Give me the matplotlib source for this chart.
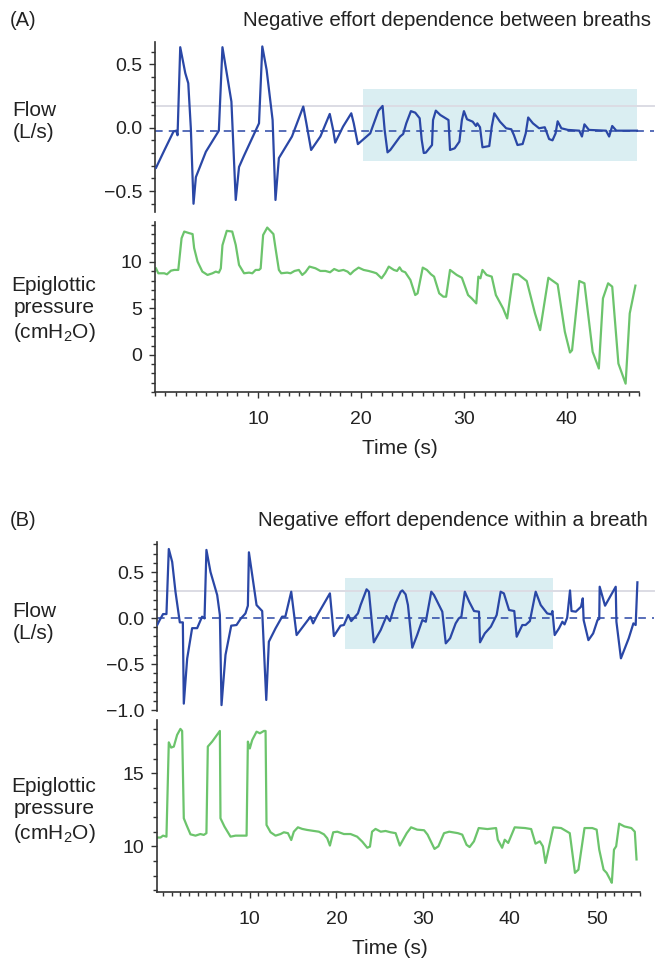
import numpy as np
import matplotlib
matplotlib.use("Agg")
import matplotlib.pyplot as plt
from matplotlib.patches import Rectangle
from matplotlib.ticker import MultipleLocator, FuncFormatter, FixedLocator

plt.rcParams['font.family'] = ['Liberation Sans', 'DejaVu Sans']
plt.rcParams['mathtext.fontset'] = 'custom'
plt.rcParams['mathtext.rm'] = 'Liberation Sans'

# ---- data (time s, value) ----
flow_a = [(0.1, -0.316), (0.9, -0.18), (1.8, -0.03), (2.06, -0.024), (2.19, -0.06), (2.45, 0.634),
          (2.94, 0.43), (3.23, 0.35), (3.48, -0.005), (3.74, -0.6), (3.97, -0.39), (4.94, -0.19),
          (6.2, -0.024), (6.55, 0.634), (7.42, 0.205), (7.84, -0.57), (8.16, -0.31), (8.65, -0.22),
          (10.1, 0.034), (10.42, 0.64), (10.84, 0.455), (11.42, 0.06), (11.7, -0.57), (12.03, -0.24),
          (13.3, -0.07), (14.4, 0.166), (14.7, 0.034), (15.16, -0.176), (16.06, -0.07), (16.97, 0.108),
          (17.3, -0.018), (17.5, -0.118), (18.26, 0.008), (19.06, 0.113), (19.3, 0.034), (19.7, -0.13),
          (20.9, -0.045), (21.7, 0.134), (22.1, 0.171), (22.3, -0.018), (22.58, -0.195), (22.85, -0.176),
          (23.8, -0.07), (24.1, -0.05), (24.4, 0.034), (24.85, 0.13), (25.27, 0.118), (25.7, 0.074),
          (25.9, -0.097), (26.1, -0.2), (26.3, -0.197), (26.9, -0.137), (27.0, 0.06), (27.27, 0.134),
          (27.7, 0.1), (28.5, 0.06), (28.65, -0.176), (29.1, -0.163), (29.56, -0.11), (29.8, 0.06),
          (30.0, 0.13), (30.3, 0.066), (30.85, 0.047), (31.17, 0.013), (31.3, 0.034), (31.56, 0.003),
          (31.8, -0.155), (32.46, -0.145), (32.7, 0.008), (32.95, 0.113), (33.5, 0.047), (34.1, -0.005),
          (34.6, -0.013), (34.85, -0.058), (35.2, -0.137), (35.7, -0.129), (36.0, -0.045), (36.24, 0.08),
          (36.7, 0.034), (37.3, -0.005), (37.85, 0.003), (38.0, -0.03), (38.27, -0.09), (38.6, -0.1),
          (38.9, -0.045), (39.1, 0.05), (39.46, -0.005), (40.1, -0.018), (41.2, -0.024), (41.46, -0.07),
          (41.7, 0.026), (42.14, -0.018), (43.8, -0.024), (44.1, -0.07), (44.4, 0.013), (44.8, -0.024),
          (46.8, -0.024)]

pressure_a = [(0.1, 9.3), (0.32, 8.78), (0.9, 8.78), (1.16, 8.67), (1.55, 9.06), (1.87, 9.14), (2.26, 9.14),
              (2.58, 12.55), (2.84, 13.27), (3.32, 13.1), (3.65, 13.0), (3.8, 11.5), (4.13, 10.04),
              (4.6, 8.96), (5.1, 8.6), (5.58, 8.78), (5.9, 8.96), (6.2, 8.85), (6.39, 9.3), (6.55, 11.8),
              (6.97, 13.35), (7.5, 13.27), (7.84, 11.83), (8.16, 9.68), (8.65, 8.78), (9.13, 8.85),
              (9.45, 8.78), (9.77, 9.14), (10.1, 9.14), (10.26, 9.3), (10.5, 12.9), (10.9, 13.7),
              (11.5, 13.0), (11.7, 11.5), (12.03, 9.14), (12.26, 8.78), (12.84, 8.85), (13.16, 8.78),
              (13.55, 9.03), (13.97, 9.14), (14.3, 8.6), (14.6, 8.89), (15.0, 9.5), (15.58, 9.32),
              (16.06, 9.03), (16.55, 9.03), (17.0, 8.89), (17.4, 9.24), (17.84, 9.03), (18.3, 9.14),
              (18.7, 8.96), (18.97, 8.67), (19.3, 9.03), (19.77, 9.39), (20.26, 9.14), (20.74, 9.03),
              (21.2, 8.89), (21.5, 8.78), (22.0, 8.24), (22.35, 8.78), (22.7, 9.5), (23.2, 9.14),
              (23.5, 9.03), (23.75, 9.42), (23.98, 9.03), (24.3, 8.89), (24.8, 8.06), (25.27, 6.44),
              (25.5, 6.62), (26.0, 9.39), (26.4, 9.14), (26.8, 8.67), (27.1, 8.42), (27.6, 6.62),
              (28.0, 6.26), (28.27, 6.26), (28.65, 9.14), (29.3, 8.6), (29.8, 8.3), (30.4, 6.44),
              (30.75, 6.08), (31.2, 5.54), (31.4, 8.42), (31.6, 8.24), (31.8, 9.14), (32.2, 8.6),
              (32.7, 8.42), (33.1, 6.44), (33.8, 5.0), (34.2, 3.92), (34.8, 8.67), (35.27, 8.67),
              (36.1, 7.95), (36.9, 4.46), (37.4, 2.66), (38.2, 8.3), (39.1, 7.59), (39.8, 2.48),
              (40.3, 0.25), (40.5, 0.5), (41.2, 7.95), (41.7, 7.7), (42.5, 0.32), (43.1, -1.47),
              (43.5, 6.08), (44.0, 7.7), (44.4, 7.34), (45.0, -0.94), (45.7, -3.1), (46.1, 4.46),
              (46.65, 7.45)]

flow_b = [(-0.68, -0.076), (-0.38, -0.02), (0.0, 0.043), (0.39, 0.043), (0.66, 0.75), (1.05, 0.61),
          (1.43, 0.286), (1.93, -0.047), (2.28, -0.047), (2.39, -0.93), (2.78, -0.44), (3.35, -0.11),
          (3.93, -0.11), (4.5, 0.015), (4.78, -0.004), (5.0, 0.74), (5.47, 0.5), (6.24, 0.25),
          (6.55, 0.033), (6.74, -0.946), (7.2, -0.4), (7.86, -0.083), (8.47, -0.076), (8.93, -0.01),
          (9.5, 0.05), (9.78, 0.134), (9.9, 0.714), (10.28, 0.467), (10.78, 0.141), (11.43, 0.076),
          (11.9, -0.89), (12.2, -0.257), (12.97, -0.112), (13.73, 0.015), (14.1, 0.015), (14.78, 0.286),
          (15.4, -0.185), (17.0, 0.015), (17.3, -0.058), (17.8, 0.033), (19.24, 0.268), (19.7, -0.196),
          (20.47, -0.083), (20.85, -0.076), (21.35, 0.033), (21.7, -0.033), (22.47, 0.05), (22.78, 0.141),
          (23.47, 0.312), (23.74, 0.286), (24.3, -0.264), (25.1, -0.13), (25.77, 0.022), (26.16, -0.033),
          (26.8, 0.16), (27.4, 0.286), (27.6, 0.3), (27.97, 0.257), (28.24, 0.141), (28.74, -0.322),
          (29.3, -0.185), (29.9, -0.022), (30.3, -0.04), (30.93, 0.286), (31.24, 0.25), (32.2, 0.069),
          (32.6, -0.275), (33.1, -0.22), (33.74, -0.058), (34.1, -0.004), (34.4, 0.015), (34.8, 0.286),
          (35.3, 0.178), (35.86, 0.076), (36.43, 0.069), (36.55, -0.264), (37.1, -0.167), (37.8, -0.094),
          (38.47, 0.033), (38.93, 0.286), (39.3, 0.268), (39.9, 0.087), (40.5, 0.076), (40.78, -0.203),
          (41.43, -0.076), (41.8, -0.076), (42.3, -0.033), (42.97, 0.286), (43.55, 0.141), (44.3, 0.05),
          (44.78, 0.04), (44.9, 0.076), (45.16, -0.185), (45.66, -0.112), (46.05, -0.04), (46.3, -0.069),
          (46.6, 0.004), (46.93, 0.3), (47.1, 0.076), (47.6, 0.069), (48.2, 0.123), (48.4, 0.214),
          (48.5, -0.022), (49.05, -0.24), (49.6, -0.167), (50.1, -0.022), (50.3, -0.01), (50.35, 0.34),
          (50.97, 0.134), (52.2, 0.34), (52.28, -0.04), (52.8, -0.438), (53.7, -0.22), (54.24, -0.058),
          (54.5, -0.076), (54.7, 0.388)]

pressure_b = [(-0.68, 10.6), (-0.3, 10.6), (0.0, 10.73), (0.39, 10.66), (0.66, 17.12), (0.93, 16.76),
              (1.24, 16.83), (1.62, 17.63), (2.0, 18.04), (2.2, 17.9), (2.39, 11.92), (2.7, 11.46),
              (3.16, 10.82), (3.74, 10.73), (4.3, 10.84), (4.7, 10.78), (5.0, 10.9), (5.16, 16.83),
              (5.66, 17.17), (6.55, 17.9), (6.62, 11.92), (7.08, 11.35), (7.78, 10.66), (8.36, 10.73),
              (9.13, 10.73), (9.63, 10.73), (9.78, 17.17), (10.0, 16.7), (10.28, 17.28), (10.78, 17.85),
              (11.17, 17.74), (11.63, 17.9), (11.82, 17.9), (11.93, 11.46), (12.4, 10.96), (12.97, 10.73),
              (13.55, 10.84), (13.93, 10.96), (14.4, 10.9), (14.78, 10.43), (15.08, 11.0), (15.55, 11.3),
              (16.05, 11.19), (16.62, 11.12), (17.4, 11.05), (17.97, 11.0), (18.55, 10.82), (18.93, 10.55),
              (19.24, 10.05), (19.62, 10.96), (20.1, 11.0), (20.85, 10.84), (21.62, 10.84), (22.38, 10.66),
              (22.97, 10.32), (23.55, 9.9), (23.86, 9.98), (24.1, 11.0), (24.5, 11.19), (25.1, 11.0),
              (25.66, 11.05), (26.24, 10.96), (26.82, 10.9), (27.3, 10.05), (28.1, 10.9), (28.6, 11.3),
              (29.3, 11.14), (30.1, 11.1), (30.5, 10.8), (31.3, 9.82), (31.75, 10.0), (32.4, 10.9),
              (33.0, 11.0), (34.0, 10.9), (34.5, 10.8), (35.0, 10.1), (35.35, 9.95), (35.85, 10.34),
              (36.4, 11.25), (37.4, 11.18), (38.4, 11.25), (38.6, 10.45), (39.1, 9.9), (39.4, 10.45),
              (39.8, 10.23), (40.55, 11.3), (41.75, 11.25), (42.45, 11.18), (42.95, 10.18), (43.45, 10.34),
              (43.8, 10.0), (44.1, 8.86), (45.0, 11.3), (45.9, 11.25), (46.9, 10.9), (47.5, 8.18),
              (47.9, 8.4), (48.6, 11.25), (49.5, 11.25), (50.0, 11.14), (50.3, 9.77), (50.8, 8.4),
              (51.15, 8.18), (51.55, 7.73), (51.75, 7.5), (52.0, 9.77), (52.25, 10.0), (52.6, 11.55),
              (53.2, 11.36), (54.0, 11.25), (54.4, 11.0), (54.6, 9.1)]

# reference levels and highlighted windows (t0, t1, v0, v1)
baseline_a, upper_a = -0.024, 0.174
baseline_b, upper_b = 0.0, 0.297
window_a = (20.2, 46.8, -0.26, 0.305)
window_b = (21.0, 45.0, -0.34, 0.44)

# tick labels
time_ticks_a = [10, 20, 30, 40]
time_ticks_b = [10, 20, 30, 40, 50]
flow_ticks_a = [-0.5, 0.0, 0.5]
flow_ticks_b = [-1.0, -0.5, 0.0, 0.5]
pres_ticks_a = [0, 5, 10]
pres_ticks_b = [10, 15]

FLOW = '#2a47a6'
PRES = '#6cc46c'
BOX = '#daeef2'
GREY = '#dcdce4'
AX = '#333333'
TXT = '#222222'

W, H = 665, 963
fig = plt.figure(figsize=(W / 100, H / 100), dpi=100)


def px_axes(left, top, right, bottom):
    return fig.add_axes([left / W, 1 - bottom / H, (right - left) / W, (bottom - top) / H])


def style(ax, show_x, xticks=None):
    for s in ['top', 'right']:
        ax.spines[s].set_visible(False)
    ax.spines['left'].set_color(AX)
    ax.spines['left'].set_linewidth(1.2)
    ax.patch.set_alpha(0)
    ax.tick_params(which='major', length=4.5, width=1, color=AX, labelsize=14, labelcolor=TXT)
    ax.tick_params(which='minor', length=2.8, width=1, color=AX)
    ax.tick_params(axis='y', pad=4.5)
    if show_x:
        ax.spines['bottom'].set_color(AX)
        ax.spines['bottom'].set_linewidth(1.2)
        ax.xaxis.set_major_locator(FixedLocator(xticks))
        ax.xaxis.set_minor_locator(MultipleLocator(1))
        ax.tick_params(axis='x', pad=9)
    else:
        ax.spines['bottom'].set_visible(False)
        ax.set_xticks([])


def flow_panel(ax, data, base, upper, win, xlim, ylim, yticks):
    t, v = np.array(data).T
    ax.add_patch(Rectangle((win[0], win[2]), win[1] - win[0], win[3] - win[2],
                           facecolor=BOX, edgecolor='none', zorder=1))
    ax.axhline(upper, xmin=0, xmax=1.03, color=GREY, lw=1.4, clip_on=False, zorder=2)
    ax.axhline(base, xmin=0, xmax=1.03, color=FLOW, lw=1.1, ls=(0, (5, 4)), clip_on=False, zorder=2)
    ax.plot(t, v, color=FLOW, lw=1.6, zorder=3)
    ax.set_xlim(*xlim)
    ax.set_ylim(*ylim)
    style(ax, False)
    ax.set_yticks(yticks)
    ax.yaxis.set_minor_locator(MultipleLocator(0.1))
    ax.yaxis.set_major_formatter(FuncFormatter(lambda y, _: ('%.1f' % y).replace('-', '\u2212')))


def pressure_panel(ax, data, xlim, ylim, xticks, yticks):
    t, p = np.array(data).T
    ax.plot(t, p, color=PRES, lw=1.6)
    ax.set_xlim(*xlim)
    ax.set_ylim(*ylim)
    style(ax, True, xticks)
    ax.set_yticks(yticks)
    ax.yaxis.set_minor_locator(MultipleLocator(1))


# panel A
ax1 = px_axes(155, 42, 639, 212)
flow_panel(ax1, flow_a, baseline_a, upper_a, window_a, (0, 47), (-0.665, 0.675), flow_ticks_a)
ax2 = px_axes(155, 222, 639, 392)
pressure_panel(ax2, pressure_a, (0, 47), (-4.0, 14.3), time_ticks_a, pres_ticks_a)

# panel B
ax3 = px_axes(157, 542, 640, 711)
flow_panel(ax3, flow_b, baseline_b, upper_b, window_b, (-0.7, 55.0), (-1.01, 0.826), flow_ticks_b)
ax4 = px_axes(157, 720, 640, 892)
pressure_panel(ax4, pressure_b, (-0.7, 55.0), (6.87, 18.65), time_ticks_b, pres_ticks_b)


def ftext(x, y, s, **kw):
    fig.text(x / W, 1 - y / H, s, **kw)


ftext(10, 21, '(A)', fontsize=14.5, va='center', ha='left', color=TXT)
ftext(651, 21, 'Negative effort dependence between breaths', fontsize=14.8,
      va='center', ha='right', color=TXT)
ftext(10, 521, '(B)', fontsize=14.5, va='center', ha='left', color=TXT)
ftext(648, 521, 'Negative effort dependence within a breath', fontsize=14.8,
      va='center', ha='right', color=TXT)

lab = dict(fontsize=15, ha='center', va='center', color=TXT, linespacing=1.2, multialignment='center')
ftext(34, 121, 'Flow\n(L/s)', **lab)
ftext(54, 310, 'Epiglottic\npressure\n(cmH$_\\mathrm{2}$O)', **lab)
ftext(34, 622, 'Flow\n(L/s)', **lab)
ftext(54, 811, 'Epiglottic\npressure\n(cmH$_\\mathrm{2}$O)', **lab)
ftext(400, 449, 'Time (s)', fontsize=15, ha='center', va='center', color=TXT)
ftext(390, 948, 'Time (s)', fontsize=15, ha='center', va='center', color=TXT)

fig.savefig('out.png', dpi=100)
